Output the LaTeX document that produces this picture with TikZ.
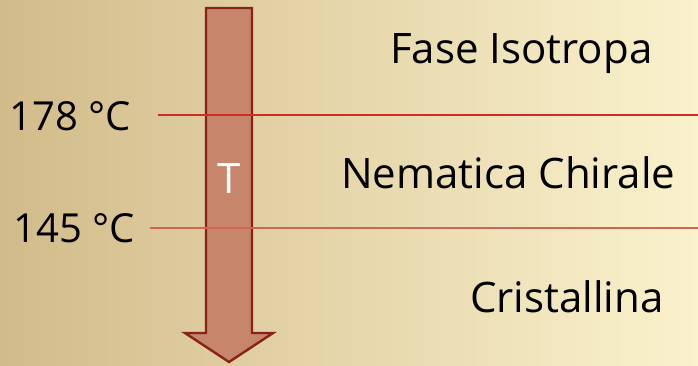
\documentclass[tikz,border=0pt]{standalone}
\usepackage{fontspec}
\setmainfont[Ligatures=NoCommon]{Open Sans}
\usepackage{tikz}
\definecolor{bgleft}  {RGB}{210, 187, 138}
\definecolor{bgright} {RGB}{250, 242, 205}
\definecolor{arrowfill}{RGB}{199, 133, 108}
\definecolor{arrowline}{RGB}{135,  35,  25}
\definecolor{templine}{RGB}{205,  45,  38}
\definecolor{templine2}{RGB}{210, 100,  80}

\begin{document}
\begin{tikzpicture}[x=1pt, y=-1pt, font=\fontsize{42}{48}\selectfont,
  phase/.style={anchor=base west, inner sep=0pt},
  temp/.style={anchor=base east, inner sep=0pt, font=\fontsize{40}{48}\selectfont}]
  % background
  \shade[left color=bgleft, right color=bgright] (0,0) rectangle (698,365);
  \useasboundingbox (0,0) rectangle (698,365);
  % temperature arrow
  \draw[arrowline, line width=2.4pt, fill=arrowfill, line join=miter]
    (206,8) -- (252,8) -- (252,333) -- (273,333) -- (229,362)
    -- (185,333) -- (206,333) -- cycle;
  \node[white, anchor=base, inner sep=0pt] (T) at (229.5,193) {T};
  % transition lines
  \coordinate (l1a) at (158,115);
  \coordinate (l1b) at (698,115);
  \coordinate (l2a) at (150,228);
  \coordinate (l2b) at (698,228);
  \draw[templine, line width=1.2pt] (l1a) -- (l1b);
  \draw[templine2, line width=1.2pt] (l2a) -- (l2b);
  % temperatures
  \node[temp] (t178) at (131,130) {178 °C};
  \node[temp] (t145) at (135,242) {145 °C};
  % phases
  \node[phase] (iso) at (390,63) {Fase Isotropa};
  \node[phase] (nem) at (341,188) {Nematica Chirale};
  \node[phase] (cri) at (470,312) {Cristallina};
\end{tikzpicture}
\end{document}
